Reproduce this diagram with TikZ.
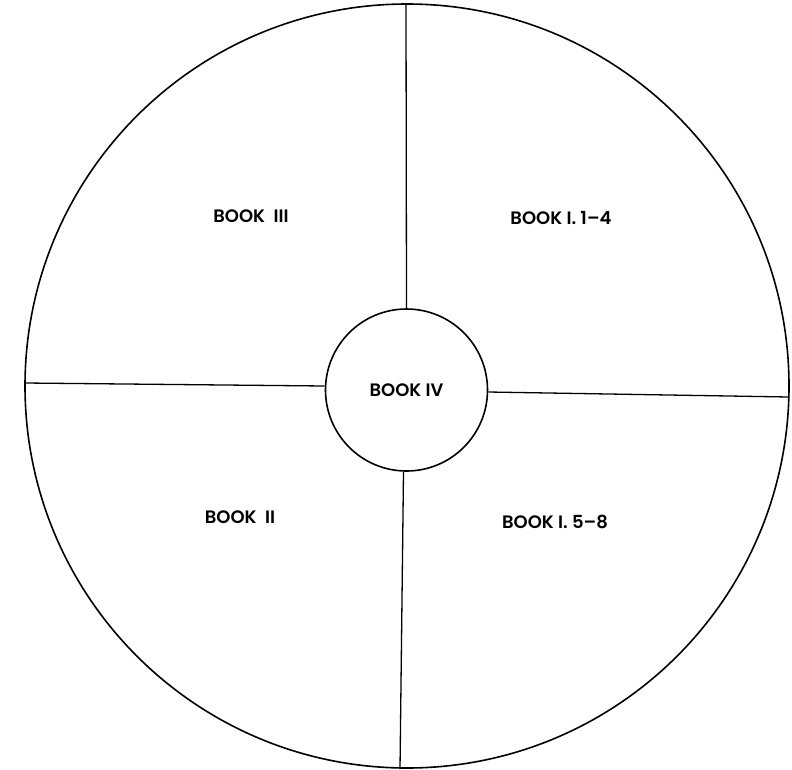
\documentclass[tikz,border=0pt]{standalone}
\usepackage{fontspec}
\setmainfont{Poppins}
\newfontfamily\librofont[Ligatures=TeX]{Poppins SemiBold}
\tikzset{
  libro/.style={font=\librofont\fontsize{18}{21}\selectfont},
  bordo/.style={line width=1.6pt},
  raggio/.style={line width=1.3pt}
}
\begin{document}
\begin{tikzpicture}[x=1pt, y=-1pt]
\useasboundingbox (0, 0) rectangle (792, 769);
% cerchio esterno
\draw[bordo] (407, 386) circle (382);
% cerchio interno
\node[bordo, draw, circle, minimum size=162pt, inner sep=0pt, libro] (centro) at (406.5, 390) {BOOK IV};
% estremi dei raggi
\coordinate (alto) at (406, 4);
\coordinate (basso) at (400, 769);
\coordinate (sinistra) at (25, 383);
\coordinate (destra) at (789, 397);
% raggi
\draw[raggio] (centro.north) -- (alto);
\draw[raggio] (centro.south) ++(-3, 0) -- (basso);
\draw[raggio] (centro.west) ++(0, -4) -- (sinistra);
\draw[raggio] (centro.east) ++(0, 2) -- (destra);
% etichette
\node[libro] (terzo) at (251, 216) {BOOK\ \ III};
\node[libro] (primoa) at (561, 218) {BOOK\ I.\ 1--4};
\node[libro] (secondo) at (240, 517) {BOOK\ \ II};
\node[libro] (primob) at (555, 522) {BOOK\ I.\ 5--8};
\end{tikzpicture}
\end{document}
